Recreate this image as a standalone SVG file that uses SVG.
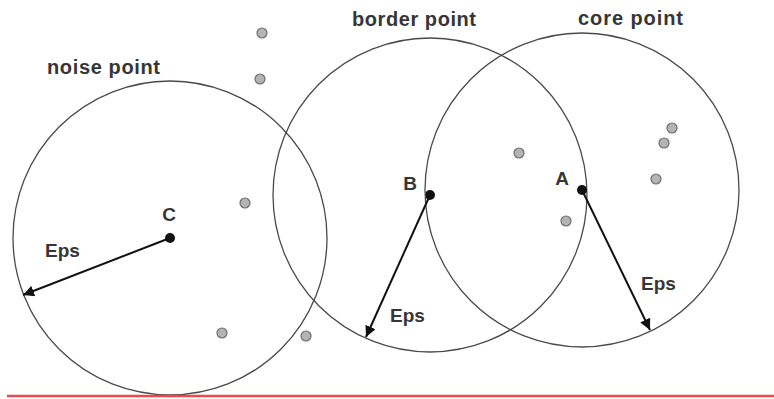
<svg xmlns="http://www.w3.org/2000/svg" width="774" height="399" viewBox="0 0 774 399">
<style>
.ring{fill:none;stroke:#4a4a4a;stroke-width:1.3}
.core{fill:#111}
.pt{fill:#b4b4b4;stroke:#6e6e6e;stroke-width:1.2}
.lbl{font-family:"Liberation Sans",Arial,sans-serif;font-weight:bold;font-size:19px;fill:#363636}
.ttl{font-size:20px}
.arr{stroke:#111;stroke-width:2;fill:none;marker-end:url(#ah)}
</style>
<defs>
<marker id="ah" viewBox="0 0 10 10" refX="10" refY="5" markerWidth="5.5" markerHeight="5.5" markerUnits="strokeWidth" orient="auto">
<path d="M0,0 L10,5 L0,10 z" fill="#111"/>
</marker>
</defs>
<rect width="774" height="399" fill="#fff"/>
<g id="noise">
<circle class="ring" cx="170" cy="238" r="157"/>
<circle class="core" cx="170" cy="238" r="5"/>
<text class="lbl ttl" x="47" y="74" textLength="113" lengthAdjust="spacing">noise point</text>
<text class="lbl" x="169" y="221" text-anchor="middle">C</text>
<text class="lbl" x="45" y="257">Eps</text>
</g>
<g id="border">
<circle class="ring" cx="430" cy="195" r="157"/>
<circle class="core" cx="430" cy="195" r="5"/>
<text class="lbl ttl" x="352" y="26" textLength="124" lengthAdjust="spacing">border point</text>
<text class="lbl" x="410" y="190" text-anchor="middle">B</text>
<text class="lbl" x="390" y="322">Eps</text>
</g>
<g id="core">
<circle class="ring" cx="582" cy="190" r="157"/>
<circle class="core" cx="582" cy="190" r="5"/>
<text class="lbl ttl" x="578" y="25" textLength="105" lengthAdjust="spacing">core point</text>
<text class="lbl" x="562" y="185" text-anchor="middle">A</text>
<text class="lbl" x="641" y="290">Eps</text>
</g>
<g id="points">
<circle class="pt" cx="262" cy="33" r="5"/>
<circle class="pt" cx="260" cy="79" r="5"/>
<circle class="pt" cx="245" cy="203" r="5"/>
<circle class="pt" cx="222" cy="333" r="5"/>
<circle class="pt" cx="306" cy="336" r="5"/>
<circle class="pt" cx="519" cy="153" r="5"/>
<circle class="pt" cx="566" cy="221" r="5"/>
<circle class="pt" cx="672" cy="128" r="5"/>
<circle class="pt" cx="664" cy="143" r="5"/>
<circle class="pt" cx="656" cy="179" r="5"/>
</g>
<g id="connectors">
<line class="arr" x1="170" y1="238" x2="23" y2="295"/>
<line class="arr" x1="430" y1="195" x2="366" y2="337"/>
<line class="arr" x1="582" y1="190" x2="650" y2="330"/>
</g>
<line x1="7" y1="396" x2="774" y2="396" stroke="#ec4a4a" stroke-width="2.5"/>
</svg>
